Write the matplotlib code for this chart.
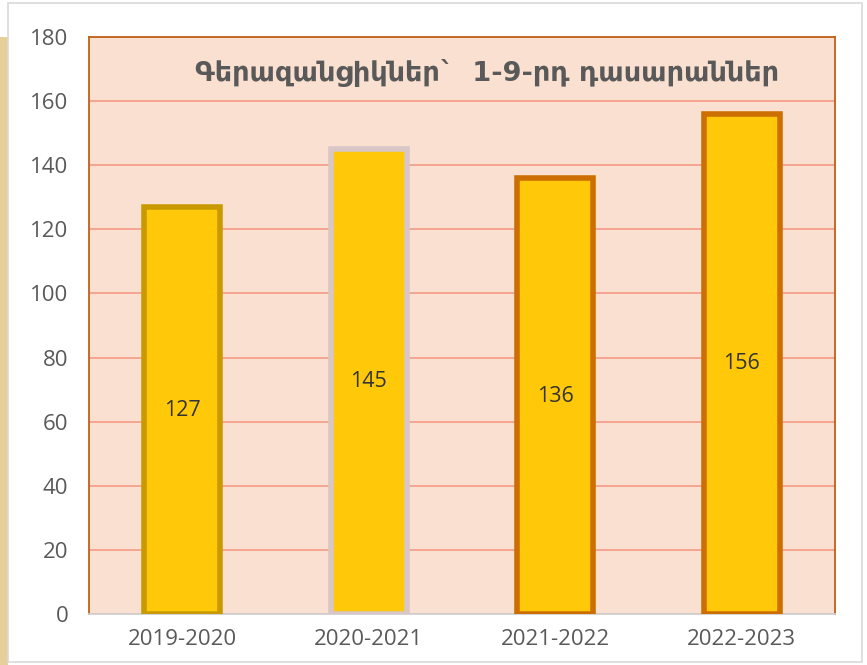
import matplotlib
matplotlib.use("Agg")
import matplotlib.pyplot as plt
from matplotlib.patches import Rectangle

categories = ["2019-2020", "2020-2021", "2021-2022", "2022-2023"]
values = [127, 145, 136, 156]
edge_colors = ["#C99A00", "#D9C6C6", "#CC6E00", "#CC6E00"]
title = "Գերազանցիկներ`  1-9-րդ դասարաններ"
yticks = list(range(0, 181, 20))

plt.rcParams['font.family'] = ['Open Sans', 'DejaVu Sans']

fig = plt.figure(figsize=(8.67, 6.65), dpi=100)
W, H = 867, 665
# textured beige strip at left
fig.patches.append(Rectangle((0, 0), 8 / W, (665 - 37) / H, transform=fig.transFigure,
                             facecolor="#E6CF98", edgecolor="none", zorder=0))
# light gray frame of the white area
fig.patches.append(Rectangle((8 / W, 3 / H), (862 - 8) / W, (662 - 3) / H, transform=fig.transFigure,
                             facecolor="none", edgecolor="#D9D9D9", linewidth=1.2, zorder=1))

ax = fig.add_axes([89 / W, (665 - 614) / H, (835 - 89) / W, (614 - 37) / H])
ax.set_facecolor("#FAE0D0")
x = range(len(categories))
bars = ax.bar(x, values, width=0.41, color="#FFC90A", edgecolor=edge_colors, linewidth=4, zorder=3)
for xi, v in zip(x, values):
    ax.text(xi, v / 2, str(v), ha="center", va="center", fontsize=15.5, color="#333333", zorder=4)

ax.set_ylim(0, 180)
ax.set_xlim(-0.5, 3.5)
ax.set_yticks(yticks)
ax.set_xticks(list(x))
ax.set_xticklabels(categories)
ax.tick_params(axis="both", length=0, labelsize=16, colors="#595959")
ax.tick_params(axis="y", pad=15)
ax.tick_params(axis="x", pad=11)
ax.grid(axis="y", color="#F4A08C", linewidth=1.3, zorder=1)
for s in ["left", "top", "right"]:
    ax.spines[s].set_color("#C0601A")
    ax.spines[s].set_linewidth(1.3)
ax.spines["bottom"].set_color("#D0D0D0")
ax.spines["bottom"].set_linewidth(1.3)

ax.text(0.534, 0.937, title, transform=ax.transAxes, ha="center", va="center",
        fontsize=19.5, fontweight="bold", color="#595959", family=["DejaVu Sans"], zorder=5)

fig.savefig("out.png", dpi=100, facecolor="white")
